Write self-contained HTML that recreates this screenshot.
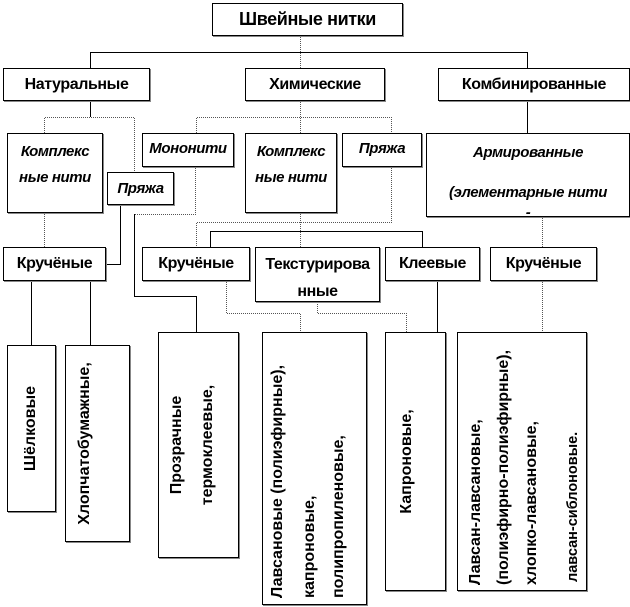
<!DOCTYPE html>
<html><head><meta charset="utf-8"><style>
body{margin:0;background:#fff;width:630px;height:607px;position:relative;overflow:hidden;font-family:"Liberation Sans",Arial,sans-serif;}
.b{position:absolute;box-sizing:border-box;border:1px solid #000;box-shadow:1px 1px 0 #888;background:#fff;font-weight:bold;font-size:16px;color:#000;text-align:center;letter-spacing:-0.4px}
.i{font-style:italic;font-size:15px}
.v{position:absolute;transform-origin:0 0;transform:rotate(-90deg);white-space:nowrap;font-weight:bold;font-size:16px;line-height:18px;height:18px}
svg{position:absolute;left:0;top:0}
</style></head><body>
<svg width="630" height="607">
<g stroke="#000" stroke-width="1" fill="none">
<path d="M90.5 68V52.5H527.5V68"/>
<path d="M90.5 100V117"/>
<path d="M120.5 204V264.5H106"/>
<path d="M31.5 280V345M90.5 280V345"/>
<path d="M210.5 247V231.5H422.5V247"/>
<path d="M527.5 100V133"/>
<path d="M437.5 280V332"/>
<path d="M134.5 214V296.5H196.5V332"/>
</g>
<g stroke="#555" stroke-width="1" fill="none" stroke-dasharray="1,1">
<path d="M300.5 35V68"/>
<path d="M44.5 133V117.5H134.5V172"/>
<path d="M44.5 212V247"/>
<path d="M300.5 100V133"/>
<path d="M196.5 133V117.5H391.5V133"/>
<path d="M195.5 166V214.5H134"/>
<path d="M391.5 166V222.5H196.5V247"/>
<path d="M300.5 212V247"/>
<path d="M542.5 216V247"/>
<path d="M226.5 280V313.5H300.5V332"/>
<path d="M317.5 302V313.5H406.5V332"/>
<path d="M542.5 280V332"/>
</g>
</svg>

<div class="b" style="left:212px;top:3px;width:191px;height:33px;line-height:31px;font-size:18px">Швейные нитки</div>
<div class="b" style="left:3px;top:68px;width:147px;height:33px;line-height:31px">Натуральные</div>
<div class="b" style="left:245px;top:68px;width:140px;height:33px;line-height:31px">Химические</div>
<div class="b" style="left:438px;top:68px;width:192px;height:33px;line-height:31px">Комбинированные</div>

<div class="b i" style="left:7px;top:133px;width:96px;height:80px;line-height:26px;padding-top:5px">Комплекс<br>ные нити</div>
<div class="b i" style="left:107px;top:172px;width:67px;height:33px;line-height:31px">Пряжа</div>
<div class="b i" style="left:142px;top:133px;width:92px;height:34px;line-height:30px">Мононити</div>
<div class="b i" style="left:245px;top:133px;width:92px;height:80px;line-height:26px;padding-top:5px">Комплекс<br>ные нити</div>
<div class="b i" style="left:342px;top:133px;width:80px;height:34px;line-height:30px">Пряжа</div>
<div class="b i" style="left:426px;top:133px;width:204px;height:84px;line-height:20px;padding-top:9px">Армированные<br><span style="display:inline-block;margin-top:20px">(элементарные нити</span><br>-</div>

<div class="b" style="left:3px;top:247px;width:103px;height:34px;line-height:32px">Кручёные</div>
<div class="b" style="left:142px;top:247px;width:108px;height:34px;line-height:32px">Кручёные</div>
<div class="b" style="left:255px;top:247px;width:125px;height:55px;line-height:27px;padding-top:3px">Текстурирова<br>нные</div>
<div class="b" style="left:385px;top:247px;width:95px;height:34px;line-height:32px">Клеевые</div>
<div class="b" style="left:490px;top:247px;width:107px;height:34px;line-height:32px">Кручёные</div>

<div class="b" style="left:7px;top:345px;width:49px;height:167px"></div>
<div class="b" style="left:65px;top:345px;width:65px;height:197px"></div>
<div class="b" style="left:158px;top:332px;width:81px;height:226px"></div>
<div class="b" style="left:262px;top:332px;width:105px;height:273px"></div>
<div class="b" style="left:385px;top:332px;width:61px;height:259px"></div>
<div class="b" style="left:457px;top:332px;width:130px;height:259px"></div>

<div class="v" style="left:22px;top:512px;width:167px;text-align:center">Шёлковые</div>
<div class="v" style="left:76px;top:542px;width:197px;text-align:center">Хлопчатобумажные,</div>
<div class="v" style="left:168px;top:558px;width:226px;text-align:center">Прозрачные</div>
<div class="v" style="left:199px;top:558px;width:226px;text-align:center">термоклеевые,</div>
<div class="v" style="left:269px;top:598px">Лавсановые (полиэфирные),</div>
<div class="v" style="left:301px;top:598px">капроновые,</div>
<div class="v" style="left:330px;top:598px">полипропиленовые,</div>
<div class="v" style="left:398px;top:591px;width:259px;text-align:center">Капроновые,</div>
<div class="v" style="left:467px;top:585px">Лавсан-лавсановые,</div>
<div class="v" style="left:495px;top:585px">(полиэфирно-полиэфирные),</div>
<div class="v" style="left:523px;top:585px">хлопко-лавсановые,</div>
<div class="v" style="left:564px;top:582px;font-size:14.5px">лавсан-сиблоновые.</div>
</body></html>
